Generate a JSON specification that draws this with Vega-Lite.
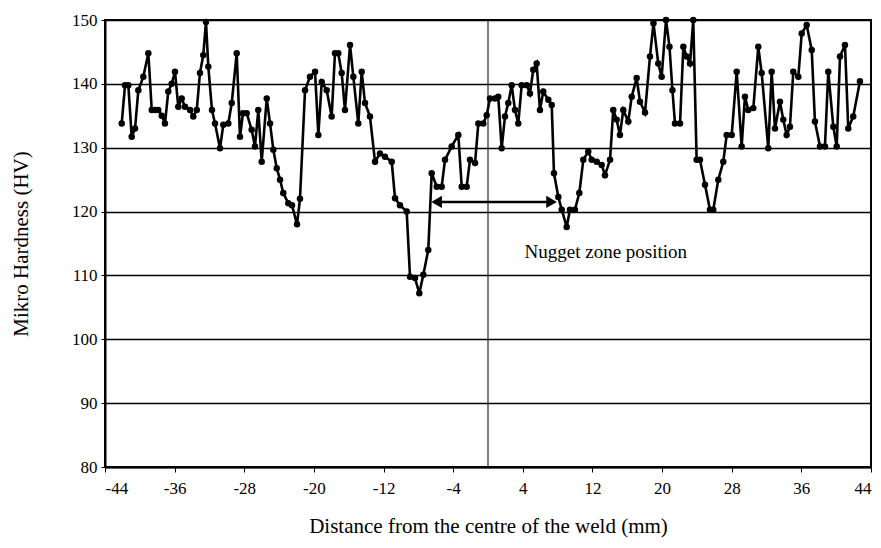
{
  "$schema": "https://vega.github.io/schema/vega-lite/v6.json",
  "width": 766,
  "height": 447,
  "autosize": "none",
  "padding": {"left": 105, "top": 20, "right": 10, "bottom": 81},
  "background": "white",
  "config": {
    "view": {"stroke": "black", "strokeWidth": 2},
    "font": "Liberation Serif",
    "axis": {
      "labelFont": "Liberation Serif",
      "titleFont": "Liberation Serif",
      "labelColor": "black",
      "titleColor": "black",
      "labelFontSize": 17,
      "titleFontSize": 21,
      "titleFontWeight": "normal",
      "domainColor": "black",
      "domainWidth": 2,
      "tickColor": "black"
    }
  },
  "datasets": {
    "hv": [
      {"x": -42.08, "y": 133.8}, {"x": -41.70, "y": 139.8}, {"x": -41.32, "y": 139.8}, {"x": -40.93, "y": 131.7},
      {"x": -40.55, "y": 133.0}, {"x": -40.17, "y": 139.0}, {"x": -39.60, "y": 141.1}, {"x": -39.02, "y": 144.8},
      {"x": -38.63, "y": 135.9}, {"x": -38.25, "y": 135.9}, {"x": -37.88, "y": 135.9}, {"x": -37.48, "y": 135.0},
      {"x": -37.11, "y": 133.8}, {"x": -36.73, "y": 138.8}, {"x": -36.34, "y": 140.0}, {"x": -35.96, "y": 141.9},
      {"x": -35.58, "y": 136.4}, {"x": -35.19, "y": 137.7}, {"x": -34.81, "y": 136.4}, {"x": -34.23, "y": 135.9},
      {"x": -33.86, "y": 134.9}, {"x": -33.46, "y": 135.9}, {"x": -33.09, "y": 141.7}, {"x": -32.71, "y": 144.5},
      {"x": -32.40, "y": 149.7}, {"x": -32.13, "y": 142.7}, {"x": -31.71, "y": 135.9}, {"x": -31.36, "y": 133.8},
      {"x": -30.79, "y": 129.9}, {"x": -30.41, "y": 133.6}, {"x": -29.83, "y": 133.8}, {"x": -29.44, "y": 137.0},
      {"x": -28.87, "y": 144.8}, {"x": -28.49, "y": 131.7}, {"x": -28.15, "y": 135.4}, {"x": -27.72, "y": 135.4},
      {"x": -27.15, "y": 132.8}, {"x": -26.77, "y": 130.2}, {"x": -26.39, "y": 135.9}, {"x": -26.00, "y": 127.8},
      {"x": -25.42, "y": 137.7}, {"x": -25.04, "y": 133.8}, {"x": -24.66, "y": 129.7}, {"x": -24.27, "y": 126.8},
      {"x": -23.89, "y": 125.0}, {"x": -23.52, "y": 122.9}, {"x": -22.94, "y": 121.3}, {"x": -22.52, "y": 121.0},
      {"x": -21.94, "y": 118.0}, {"x": -21.60, "y": 122.0}, {"x": -21.02, "y": 139.0}, {"x": -20.45, "y": 141.1},
      {"x": -19.87, "y": 141.9}, {"x": -19.49, "y": 132.0}, {"x": -19.10, "y": 140.3}, {"x": -18.53, "y": 139.0},
      {"x": -17.96, "y": 134.9}, {"x": -17.58, "y": 144.8}, {"x": -17.20, "y": 144.8}, {"x": -16.81, "y": 141.7},
      {"x": -16.43, "y": 135.9}, {"x": -15.85, "y": 146.1}, {"x": -15.47, "y": 141.1}, {"x": -14.90, "y": 133.8},
      {"x": -14.51, "y": 141.9}, {"x": -14.13, "y": 137.0}, {"x": -13.56, "y": 134.9}, {"x": -12.98, "y": 127.8},
      {"x": -12.41, "y": 129.1}, {"x": -11.83, "y": 128.6}, {"x": -11.06, "y": 127.8}, {"x": -10.68, "y": 122.1},
      {"x": -10.11, "y": 121.0}, {"x": -9.34, "y": 120.0}, {"x": -8.96, "y": 109.8}, {"x": -8.39, "y": 109.6},
      {"x": -7.89, "y": 107.2}, {"x": -7.43, "y": 110.1}, {"x": -6.86, "y": 114.0}, {"x": -6.47, "y": 126.0},
      {"x": -5.89, "y": 123.9}, {"x": -5.32, "y": 123.9}, {"x": -4.94, "y": 128.1}, {"x": -4.17, "y": 130.2},
      {"x": -3.41, "y": 132.0}, {"x": -3.02, "y": 123.9}, {"x": -2.45, "y": 123.9}, {"x": -2.07, "y": 128.1},
      {"x": -1.49, "y": 127.6}, {"x": -1.11, "y": 133.8}, {"x": -0.54, "y": 133.8}, {"x": -0.15, "y": 135.1},
      {"x": 0.23, "y": 137.7}, {"x": 0.80, "y": 137.7}, {"x": 1.18, "y": 138.0}, {"x": 1.57, "y": 129.9},
      {"x": 1.95, "y": 134.9}, {"x": 2.33, "y": 137.0}, {"x": 2.72, "y": 139.8}, {"x": 3.10, "y": 135.9},
      {"x": 3.48, "y": 133.8}, {"x": 3.87, "y": 139.8}, {"x": 4.45, "y": 139.8}, {"x": 4.82, "y": 138.5},
      {"x": 5.20, "y": 142.2}, {"x": 5.59, "y": 143.2}, {"x": 5.97, "y": 135.9}, {"x": 6.35, "y": 138.8},
      {"x": 6.93, "y": 137.5}, {"x": 7.32, "y": 136.7}, {"x": 7.58, "y": 126.0}, {"x": 8.08, "y": 122.3},
      {"x": 8.47, "y": 120.3}, {"x": 9.04, "y": 117.6}, {"x": 9.42, "y": 120.3}, {"x": 9.99, "y": 120.3},
      {"x": 10.49, "y": 122.9}, {"x": 10.95, "y": 128.1}, {"x": 11.52, "y": 129.4}, {"x": 11.91, "y": 128.1},
      {"x": 12.49, "y": 127.8}, {"x": 13.06, "y": 127.3}, {"x": 13.44, "y": 125.7}, {"x": 14.02, "y": 128.1},
      {"x": 14.39, "y": 135.9}, {"x": 14.78, "y": 134.4}, {"x": 15.16, "y": 132.0}, {"x": 15.54, "y": 135.9},
      {"x": 16.12, "y": 134.1}, {"x": 16.51, "y": 138.0}, {"x": 17.08, "y": 140.9}, {"x": 17.46, "y": 137.2},
      {"x": 18.04, "y": 135.5}, {"x": 18.61, "y": 144.3}, {"x": 19.01, "y": 149.5}, {"x": 19.56, "y": 143.2},
      {"x": 19.95, "y": 141.1}, {"x": 20.45, "y": 150.0}, {"x": 20.85, "y": 145.8}, {"x": 21.19, "y": 139.0},
      {"x": 21.48, "y": 133.8}, {"x": 22.06, "y": 133.8}, {"x": 22.44, "y": 145.8}, {"x": 22.83, "y": 144.3},
      {"x": 23.21, "y": 143.2}, {"x": 23.58, "y": 150.0}, {"x": 23.97, "y": 128.1}, {"x": 24.35, "y": 128.1},
      {"x": 24.93, "y": 124.2}, {"x": 25.50, "y": 120.3}, {"x": 25.88, "y": 120.3}, {"x": 26.46, "y": 125.0},
      {"x": 27.03, "y": 127.8}, {"x": 27.42, "y": 132.0}, {"x": 28.00, "y": 132.0}, {"x": 28.57, "y": 141.9},
      {"x": 29.14, "y": 130.2}, {"x": 29.52, "y": 138.0}, {"x": 29.90, "y": 135.9}, {"x": 30.48, "y": 136.2},
      {"x": 31.05, "y": 145.8}, {"x": 31.44, "y": 141.7}, {"x": 32.20, "y": 129.9}, {"x": 32.59, "y": 141.9},
      {"x": 32.97, "y": 133.0}, {"x": 33.54, "y": 137.2}, {"x": 33.92, "y": 134.4}, {"x": 34.31, "y": 132.0},
      {"x": 34.69, "y": 133.3}, {"x": 35.07, "y": 141.9}, {"x": 35.65, "y": 141.1}, {"x": 36.04, "y": 147.9},
      {"x": 36.61, "y": 149.2}, {"x": 37.19, "y": 145.3}, {"x": 37.56, "y": 134.1}, {"x": 38.14, "y": 130.2},
      {"x": 38.71, "y": 130.2}, {"x": 39.09, "y": 141.9}, {"x": 39.67, "y": 133.3}, {"x": 40.06, "y": 130.2},
      {"x": 40.44, "y": 144.3}, {"x": 41.01, "y": 146.1}, {"x": 41.39, "y": 133.0}, {"x": 41.96, "y": 134.9},
      {"x": 42.73, "y": 140.4}
    ]
  },
  "layer": [
    {
      "data": {"values": [{"x": 0}]},
      "mark": {"type": "rule", "color": "black", "strokeWidth": 1},
      "encoding": {
        "x": {"field": "x", "type": "quantitative"}
      }
    },
    {
      "data": {"name": "hv"},
      "mark": {"type": "line", "color": "black", "strokeWidth": 2.6, "point": {"filled": true, "color": "black", "size": 42, "opacity": 1}},
      "encoding": {
        "x": {
          "field": "x", "type": "quantitative",
          "scale": {"domain": [-44, 44], "nice": false},
          "axis": {
            "title": "Distance from the centre of the weld (mm)",
            "values": [-44, -36, -28, -20, -12, -4, 4, 12, 20, 28, 36, 44],
            "labelExpr": "'' + datum.value",
            "grid": false,
            "tickSize": 5,
            "labelPadding": 8,
            "titlePadding": 19
          }
        },
        "y": {
          "field": "y", "type": "quantitative",
          "scale": {"domain": [80, 150], "nice": false, "zero": false},
          "axis": {
            "title": "Mikro Hardness (HV)",
            "values": [80, 90, 100, 110, 120, 130, 140, 150],
            "grid": true,
            "gridColor": "black",
            "gridWidth": 1.5,
            "gridOpacity": 1,
            "tickSize": 4,
            "labelPadding": 4,
            "titlePadding": 40
          }
        }
      }
    },
    {
      "data": {"values": [{"x": -6.2, "x2": 7.6, "y": 121.5}]},
      "mark": {"type": "rule", "color": "black", "strokeWidth": 2.5},
      "encoding": {
        "x": {"field": "x", "type": "quantitative"},
        "x2": {"field": "x2"},
        "y": {"field": "y", "type": "quantitative"}
      }
    },
    {
      "data": {"values": [{"x": -5.9, "y": 121.5}]},
      "mark": {"type": "point", "shape": "triangle-left", "filled": true, "color": "black", "size": 150, "opacity": 1},
      "encoding": {
        "x": {"field": "x", "type": "quantitative"},
        "y": {"field": "y", "type": "quantitative"}
      }
    },
    {
      "data": {"values": [{"x": 7.3, "y": 121.5}]},
      "mark": {"type": "point", "shape": "triangle-right", "filled": true, "color": "black", "size": 150, "opacity": 1},
      "encoding": {
        "x": {"field": "x", "type": "quantitative"},
        "y": {"field": "y", "type": "quantitative"}
      }
    },
    {
      "data": {"values": [{"x": 4.2, "y": 113.6, "label": "Nugget zone position"}]},
      "mark": {"type": "text", "align": "left", "baseline": "middle", "font": "Liberation Serif", "fontSize": 19, "color": "black"},
      "encoding": {
        "x": {"field": "x", "type": "quantitative"},
        "y": {"field": "y", "type": "quantitative"},
        "text": {"field": "label"}
      }
    }
  ]
}
